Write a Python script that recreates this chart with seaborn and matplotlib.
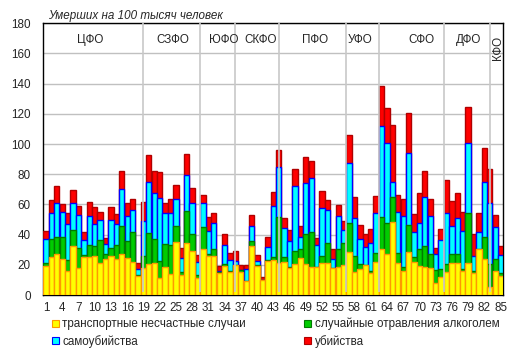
import numpy as np
import matplotlib
matplotlib.use("Agg")
import matplotlib.pyplot as plt
from matplotlib.patches import Patch
import seaborn as sns
import pandas as pd

sns.set_style("white")
plt.rcParams["font.family"] = ["Liberation Sans", "DejaVu Sans"]

# ── Data (per 100 000 population, regions 1..85) ──
regions = list(range(1, 86))
transport = [19.5, 25.4, 27.4, 24.1, 16.1, 32.7, 17.7, 25.0, 25.0, 26.1,
             21.4, 23.6, 26.1, 23.6, 27.0, 24.7, 22.1, 12.4, 18.1, 20.3,
             21.0, 11.5, 18.8, 13.7, 35.3, 13.5, 34.7, 29.4, 11.0, 30.3,
             26.1, 25.8, 14.8, 19.2, 15.5, 19.7, 15.5, 9.3, 32.7, 19.4,
             10.2, 22.3, 23.0, 21.5, 22.1, 17.7, 20.3, 24.7, 20.3, 18.8,
             18.3, 21.4, 21.0, 17.7, 18.8, 19.7, 28.7, 15.0, 17.5, 19.7,
             14.8, 21.6, 30.3, 27.2, 48.6, 21.0, 15.7, 28.7, 22.1, 19.2,
             18.3, 17.7, 7.7, 11.7, 15.0, 21.4, 21.4, 16.1, 21.4, 14.4,
             30.3, 23.6, 5.5, 15.9, 12.8]
alcohol = [1.7, 11.9, 10.8, 14.6, 7.3, 10.6, 13.7, 1.7, 8.4, 6.2,
           15.3, 3.4, 5.3, 9.3, 18.9, 11.3, 19.9, 0.9, 8.0, 21.0,
           16.3, 11.3, 15.2, 19.7, 10.6, 2.0, 21.2, 10.8, 2.0, 14.5,
           1.0, 4.5, 0.3, 1.1, 0.3, 0.4, 0.8, 0.3, 3.3, 0.3,
           0.0, 0.7, 2.4, 30.4, 3.1, 1.1, 9.1, 5.6, 19.9, 23.2,
           0.5, 4.7, 13.7, 0.4, 11.5, 14.5, 19.0, 11.1, 2.8, 0.5,
           0.9, 6.4, 21.2, 20.3, 16.6, 7.0, 2.6, 17.9, 2.9, 11.1,
           14.2, 9.2, 8.9, 5.5, 5.3, 5.5, 5.5, 1.1, 32.7, 1.7,
           0.5, 15.1, 15.0, 7.7, 1.6]
suicide = [16.0, 17.3, 23.0, 16.5, 23.6, 17.7, 21.8, 9.5, 19.2, 15.0,
           13.0, 7.0, 18.5, 14.4, 24.1, 16.6, 14.5, 3.7, 22.9, 33.8,
           30.3, 41.7, 20.6, 21.2, 17.5, 9.2, 23.6, 20.5, 8.6, 16.4,
           15.3, 17.6, 1.0, 13.1, 7.4, 2.2, 0.2, 7.9, 9.9, 2.6,
           0.0, 9.0, 33.8, 32.9, 19.4, 17.2, 43.1, 8.4, 34.2, 35.8,
           14.3, 31.8, 21.8, 5.5, 22.1, 9.1, 40.0, 25.1, 17.0, 11.8,
           18.5, 26.1, 60.7, 53.0, 9.9, 27.2, 33.8, 47.3, 16.5, 17.6,
           32.7, 25.7, 10.3, 19.2, 33.8, 19.0, 23.9, 25.4, 46.9, 10.0,
           10.7, 36.4, 40.7, 21.7, 12.3]
murder = [5.0, 8.4, 10.8, 4.9, 7.1, 8.6, 5.6, 5.3, 8.8, 10.8,
          5.1, 3.6, 8.6, 6.2, 12.2, 8.1, 7.1, 4.0, 12.4, 17.5,
          14.6, 16.8, 6.1, 9.0, 9.3, 6.2, 13.9, 10.2, 4.9, 5.1,
          9.5, 6.4, 3.3, 7.0, 4.4, 6.6, 3.2, 2.2, 7.1, 4.2,
          1.7, 6.4, 8.8, 11.3, 6.4, 6.9, 10.8, 7.0, 16.8, 11.0,
          4.5, 10.8, 6.5, 6.7, 7.2, 5.5, 18.3, 13.5, 8.9, 8.2,
          9.3, 11.3, 26.3, 23.2, 37.6, 10.8, 11.5, 26.5, 12.0, 19.5,
          17.0, 11.0, 4.0, 7.1, 22.1, 16.4, 16.6, 12.2, 23.4, 14.1,
          12.6, 22.1, 22.3, 7.7, 5.8]

districts = ["ЦФО", "СЗФО", "ЮФО", "СКФО", "ПФО", "УФО", "СФО", "ДФО"]
district_x = [8.1, 23.5, 32.9, 39.7, 49.7, 58.0, 69.3, 78.0]
separators = [18, 28.5, 35, 43, 55.5, 61.5, 73.5, 82]

labels = ["транспортные несчастные случаи", "случайные отравления алкоголем",
          "самоубийства", "убийства"]
fills = ["#ffff00", "#00cc00", "#00ffff", "#ff0000"]
edges = ["#ff9900", "#007a00", "#0000ff", "#b00000"]

df = pd.DataFrame({"region": regions, "transport": transport, "alcohol": alcohol,
                   "suicide": suicide, "murder": murder})
df["c1"] = df["transport"]
df["c2"] = df["c1"] + df["alcohol"]
df["c3"] = df["c2"] + df["suicide"]
df["c4"] = df["c3"] + df["murder"]

fig = plt.figure(figsize=(5.16, 3.6), dpi=100)
ax = fig.add_axes([43.3 / 516, 65 / 360, 460 / 516, 271.7 / 360])

# draw cumulative totals from the top down so each segment overlays the previous
for col, fc, ec in zip(["c4", "c3", "c2", "c1"], fills[::-1], edges[::-1]):
    sns.barplot(data=df, x="region", y=col, color=fc, saturation=1,
                edgecolor=ec, linewidth=1.0, width=0.98, errorbar=None,
                ax=ax, zorder=3)

ax.set_ylim(0, 180)
ax.set_xlim(-0.5, 84.5)
ax.set_yticks(range(0, 181, 20))
ax.set_xticks(range(0, 85, 3))
ax.set_xticklabels([str(r) for r in regions[::3]])
ax.tick_params(axis="both", length=0, labelsize=8.4)
ax.tick_params(axis="y", pad=9)
ax.tick_params(axis="x", pad=5)
ax.set_xlabel("")
ax.set_ylabel("")
ax.yaxis.grid(True, color="#c0c0c0", linewidth=1.0, zorder=0)
ax.set_axisbelow(True)
for s in ax.spines.values():
    s.set_color("black")
    s.set_linewidth(1.0)

ax.vlines(separators, 2, 180, color="#c8c8c8", linewidth=1.2, zorder=5)

for name, xpos in zip(districts, district_x):
    ax.text(xpos, 169, name, ha="center", va="center", fontsize=8.4, zorder=6)
ax.text(83.5, 164, "КФО", ha="center", va="center", rotation=90, fontsize=8.4, zorder=6)

fig.text(48 / 516, 1 - 15.5 / 360, "Умерших на 100 тысяч человек",
         style="italic", fontsize=8.4, va="center", ha="left")

handles = [Patch(facecolor=f, edgecolor=e, linewidth=0.8) for f, e in zip(fills, edges)]
order = [0, 2, 1, 3]
fig.legend([handles[i] for i in order], [labels[i] for i in order],
           ncol=2, loc="upper left", bbox_to_anchor=(52 / 516, 1 - 318 / 360),
           frameon=False, fontsize=8.4, handlelength=0.6, handleheight=0.6,
           handletextpad=0.3, columnspacing=5.0, labelspacing=0.35,
           borderpad=0, borderaxespad=0)

fig.savefig("out.png", dpi=100)
